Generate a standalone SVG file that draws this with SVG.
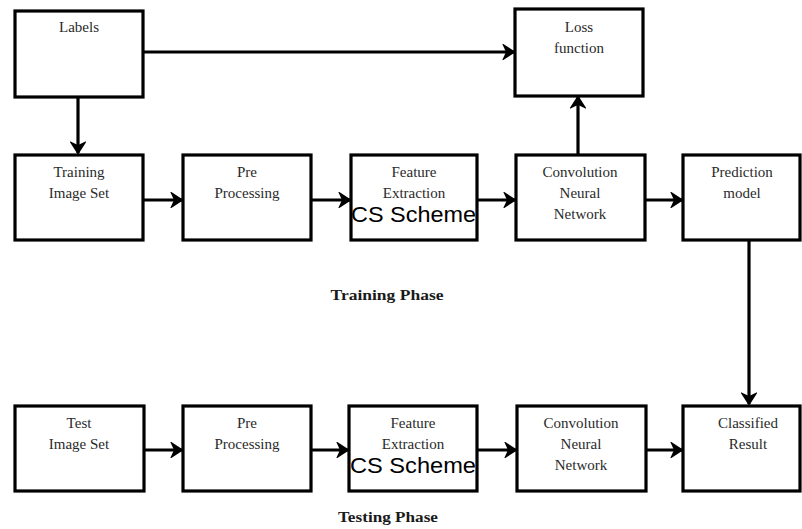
<svg xmlns="http://www.w3.org/2000/svg" width="802" height="529" viewBox="0 0 802 529">
  <style>
    .box { fill: #ffffff; stroke: #000000; stroke-width: 3.2; }
    .lbl { font-family: "Liberation Serif", "Times New Roman", serif; font-size: 15px; fill: #2a2a2a; text-anchor: middle; }
    .cs { font-family: "Liberation Sans", Arial, sans-serif; font-size: 22px; fill: #000000; }
    .phase { font-family: "Liberation Serif", "Times New Roman", serif; font-size: 15px; font-weight: bold; fill: #1a1a1a; text-anchor: middle; }
    .edge { fill: none; stroke: #000000; stroke-width: 3.2; marker-end: url(#head); }
  </style>
  <defs>
    <marker id="head" markerUnits="userSpaceOnUse" markerWidth="14" markerHeight="16" refX="12" refY="8" orient="auto">
      <path d="M2,1.5 L12,8 L2,14.5 L5,8 Z" fill="#000000" stroke="#000000" stroke-width="1.8" stroke-linejoin="miter"/>
    </marker>
  </defs>
  <rect width="802" height="529" fill="#ffffff"/>

  <!-- connectors -->
  <g id="connectors">
    <path class="edge" d="M143,52 H514"/>
    <path class="edge" d="M78,97 V153"/>
    <path class="edge" d="M578,155 V97"/>
    <path class="edge" d="M143,200 H182"/>
    <path class="edge" d="M311,200 H350"/>
    <path class="edge" d="M477,200 H515"/>
    <path class="edge" d="M645,200 H682"/>
    <path class="edge" d="M749,240 V404"/>
    <path class="edge" d="M144,450 H182"/>
    <path class="edge" d="M311,450 H348"/>
    <path class="edge" d="M477,450 H516"/>
    <path class="edge" d="M646,450 H682"/>
  </g>

  <!-- training phase -->
  <g id="labels">
    <rect class="box" x="15" y="11" width="128" height="86"/>
    <text class="lbl" x="79" y="32">Labels</text>
  </g>
  <g id="loss">
    <rect class="box" x="515" y="9" width="128" height="87"/>
    <text class="lbl" x="579" y="32">Loss</text>
    <text class="lbl" x="579" y="53">function</text>
  </g>
  <g id="train-images">
    <rect class="box" x="15" y="155" width="128" height="85"/>
    <text class="lbl" x="79" y="177">Training</text>
    <text class="lbl" x="79" y="198">Image Set</text>
  </g>
  <g id="train-pre">
    <rect class="box" x="183" y="155" width="128" height="85"/>
    <text class="lbl" x="247" y="177">Pre</text>
    <text class="lbl" x="247" y="198">Processing</text>
  </g>
  <g id="train-feature">
    <rect class="box" x="351" y="155" width="126" height="85"/>
    <text class="lbl" x="414" y="177">Feature</text>
    <text class="lbl" x="414" y="198">Extraction</text>
    <text class="cs" x="351" y="222" textLength="125" lengthAdjust="spacingAndGlyphs">CS Scheme</text>
  </g>
  <g id="train-cnn">
    <rect class="box" x="516" y="155" width="129" height="85"/>
    <text class="lbl" x="580" y="177">Convolution</text>
    <text class="lbl" x="580" y="198">Neural</text>
    <text class="lbl" x="580" y="219">Network</text>
  </g>
  <g id="prediction">
    <rect class="box" x="683" y="155" width="117" height="85"/>
    <text class="lbl" x="742" y="177">Prediction</text>
    <text class="lbl" x="742" y="198">model</text>
  </g>
  <text class="phase" x="387" y="300" textLength="113" lengthAdjust="spacingAndGlyphs">Training  Phase</text>

  <!-- testing phase -->
  <g id="test-images">
    <rect class="box" x="15" y="406" width="129" height="85"/>
    <text class="lbl" x="79" y="428">Test</text>
    <text class="lbl" x="79" y="449">Image Set</text>
  </g>
  <g id="test-pre">
    <rect class="box" x="183" y="406" width="128" height="85"/>
    <text class="lbl" x="247" y="428">Pre</text>
    <text class="lbl" x="247" y="449">Processing</text>
  </g>
  <g id="test-feature">
    <rect class="box" x="349" y="406" width="128" height="85"/>
    <text class="lbl" x="413" y="428">Feature</text>
    <text class="lbl" x="413" y="449">Extraction</text>
    <text class="cs" x="350" y="473" textLength="126" lengthAdjust="spacingAndGlyphs">CS Scheme</text>
  </g>
  <g id="test-cnn">
    <rect class="box" x="517" y="406" width="129" height="85"/>
    <text class="lbl" x="581" y="428">Convolution</text>
    <text class="lbl" x="581" y="449">Neural</text>
    <text class="lbl" x="581" y="470">Network</text>
  </g>
  <g id="classified">
    <rect class="box" x="683" y="406" width="117" height="85"/>
    <text class="lbl" x="748" y="428">Classified</text>
    <text class="lbl" x="748" y="449">Result</text>
  </g>
  <text class="phase" x="388" y="522" textLength="100" lengthAdjust="spacingAndGlyphs">Testing Phase</text>
</svg>
